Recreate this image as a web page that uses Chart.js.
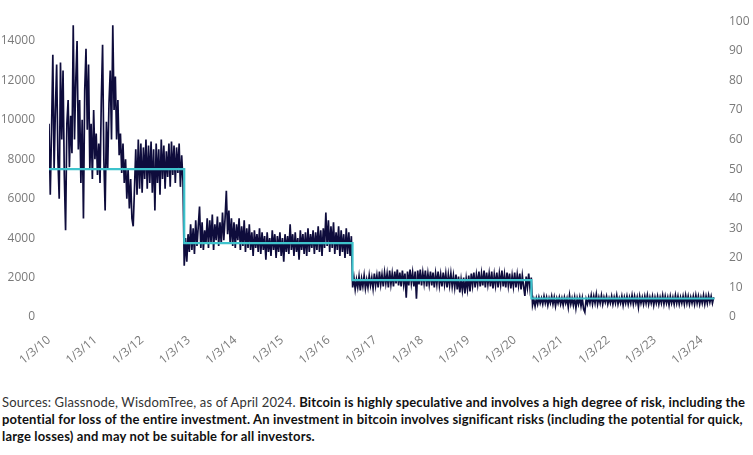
<!DOCTYPE html>
<html><head><meta charset="utf-8">
<script src="https://cdn.jsdelivr.net/npm/chart.js@4"></script>
<style>
html,body{margin:0;padding:0;background:#fff;}
#wrap{position:absolute;left:0;top:0;width:753px;height:380px;}
#note{position:absolute;left:2px;top:394px;width:753px;font-family:Lato,"Open Sans",sans-serif;font-size:13px;line-height:17px;color:#333;white-space:nowrap;letter-spacing:0.15px;}
#note b{color:#111;}
</style></head>
<body>
<div id="wrap"><canvas id="c"></canvas></div>
<div id="note">Sources: Glassnode, WisdomTree, as of April 2024. <b>Bitcoin is highly speculative and involves a high degree of risk, including the<br>potential for loss of the entire investment. An investment in bitcoin involves significant risks (including the potential for quick,<br>large losses) and may not be suitable for all investors.</b></div>
<script>
// days since 1/3/2010, one reading every 10 days
const sampleStepDays = 10;
const dailyIssuance = [
9800,6200,9500,13300,7500,10500,12800,8000,6000,12900,9000,12500,7200,4400,9800,11000,7600,10200,8300,14800,
9000,12000,14000,8500,11000,6800,10000,5000,11500,13600,9500,12800,7500,9800,7000,10500,8000,9300,7200,8800,
6800,11000,13800,8000,5400,9900,7500,10800,12500,9000,14800,10500,12200,9000,11000,8200,9300,7300,8800,6800,
8000,6000,7500,5500,7000,5000,4600,6500,8500,6200,9000,6500,8800,6300,8600,7000,9000,6500,8700,6800,
8900,6300,8500,5400,8800,6800,8500,6200,9000,7000,8700,6500,8400,7100,8800,6600,8900,7200,8700,6800,
8600,7300,8800,6600,8200,6900,
2600,4000,2800,4200,3300,4700,3400,4500,3200,4900,3600,4600,5600,3500,4800,3400,4400,3700,5000,3500,
4900,3800,5200,3400,4700,3900,5100,3600,4800,3700,5300,3900,5000,6400,4200,5400,3700,5000,3600,4800,
3500,4700,3900,5000,3400,4600,3600,4900,3300,4500,3500,4700,3400,4300,3100,4400,3500,4200,3300,4500,
3200,4300,3400,4100,2900,4300,3300,4000,3100,4400,3400,4200,3000,4100,3300,4300,3100,4000,2800,4200,
3300,4100,3200,4700,3400,4200,3100,4300,3300,4000,2900,4400,3400,4200,3200,4300,3100,4500,3300,4200,
3500,4400,3200,4300,3400,4600,3300,4400,3100,4500,3500,5300,3600,4900,3300,4600,3500,4800,3200,4300,
3400,4600,3100,4400,3300,4200,3000,4500,3200,4300,3100,4100,
1500,2000,1400,1900,1500,2050,1350,1950,1550,2100,1450,1900,1500,2100,1600,2000,1450,2200,1600,2100,
1500,2300,1650,2150,1550,2250,1700,2200,1500,2350,1650,2200,1550,2300,1700,2400,1600,2250,1550,2350,
1650,2200,980,2300,1600,2400,1700,2250,1550,2300,930,2350,1650,2400,1600,2250,1700,2350,1550,2200,
1650,2300,1600,2250,1500,2200,1650,2300,1600,2150,1550,2250,1650,2200,1500,2150,1600,2200,1550,2100,
1500,2150,1400,2050,1250,1900,1350,2000,1200,1950,1400,2100,1300,2200,1600,2250,1500,2150,1650,2300,
1550,2200,1600,2350,1500,2250,1650,2200,1550,2300,1450,2150,1600,2250,1500,2200,1650,2350,1550,2150,
1500,2250,1600,2200,1450,2100,1550,2250,1500,2150,1600,2200,1400,2100,1550,1070,2050,1500,2200,1450,
2000,
600,900,550,950,650,1000,700,950,650,1050,700,1000,600,950,700,1050,650,1000,550,950,
700,1000,650,950,600,1000,700,950,500,1100,650,950,600,1000,450,950,650,1000,550,950,
400,240,900,650,1000,700,1100,650,1050,700,1150,650,1000,700,1100,650,1000,750,1050,650,
950,700,1050,650,1000,700,1100,650,950,700,1050,600,1000,700,1050,650,1000,700,1100,650,
1050,700,1000,500,1050,700,1000,650,1050,700,1100,650,1000,700,1050,600,1000,700,1050,650,
1000,700,1100,650,1050,700,1000,600,1050,700,1000,650,1100,700,1050,650,1000,700,1050,650,
1100,700,1050,650,1000,700,1050,650,1100,700,1050,650,1000,700,1100,650,1050,700,1100,750,
1050,700,1000
];
// block reward (BTC) by era start (days since 1/3/2010)
const rewardDays = [0, 1060, 2379, 3781, 5216];
const rewardValues = [50, 25, 12.5, 6.25, 6.25];
// x tick labels and their day offsets
const tickLabels = ["1/3/10","1/3/11","1/3/12","1/3/13","1/3/14","1/3/15","1/3/16","1/3/17","1/3/18","1/3/19","1/3/20","1/3/21","1/3/22","1/3/23","1/3/24"];
const tickDays = [0,365,730,1096,1461,1826,2191,2557,2922,3287,3652,4018,4383,4748,5113];
const leftTicks = [0,2000,4000,6000,8000,10000,12000,14000];
const rightTicks = [0,10,20,30,40,50,60,70,80,90,100];

const tickFont = {family:"'Open Sans', sans-serif", size:12};
const tickColor = '#7a7a7a';

new Chart(document.getElementById('c'), {
  type: 'line',
  data: {
    datasets: [
      {
        label: 'Block reward',
        data: rewardDays.map((d,i)=>({x:d, y:rewardValues[i]})),
        yAxisID: 'y1',
        borderColor: '#3ec3cc',
        borderWidth: 2.2,
        stepped: 'before',
        pointRadius: 0,
        order: 0
      },
      {
        label: 'Daily issuance',
        data: dailyIssuance.map((v,i)=>({x:i*sampleStepDays, y:v})),
        yAxisID: 'y',
        borderColor: '#0e0c3c',
        borderWidth: 1.7,
        pointRadius: 0,
        tension: 0,
        order: 1
      }
    ]
  },
  options: {
    responsive: true,
    maintainAspectRatio: false,
    animation: false,
    layout: {padding: {top: 9, left: 0, right: 0, bottom: 0}},
    plugins: {legend: {display:false}, tooltip: {enabled:false}},
    scales: {
      x: {
        type: 'linear', min: 0, max: 5228,
        grid: {display:false, drawTicks:false},
        border: {display:false},
        afterBuildTicks: s => { s.ticks = tickDays.map(v=>({value:v})); },
        afterFit: s => { s.height = 63; },
        ticks: {autoSkip:false, maxRotation:40, minRotation:40, padding:16, font:tickFont, color:tickColor,
          callback: (v,i) => tickLabels[i]}
      },
      y: {
        position: 'left', min: 0, max: 15000,
        grid: {display:false, drawTicks:false},
        border: {display:false},
        afterBuildTicks: s => { s.ticks = leftTicks.map(v=>({value:v})); },
        afterFit: s => { s.width = 49; },
        ticks: {padding:14, font:tickFont, color:tickColor, callback: v => String(v)}
      },
      y1: {
        position: 'right', min: 0, max: 100,
        grid: {display:false, drawTicks:false},
        border: {display:false},
        afterBuildTicks: s => { s.ticks = rightTicks.map(v=>({value:v})); },
        afterFit: s => { s.width = 37; },
        ticks: {padding:13, font:tickFont, color:tickColor, callback: v => String(v)}
      }
    }
  }
});
</script>
</body></html>
